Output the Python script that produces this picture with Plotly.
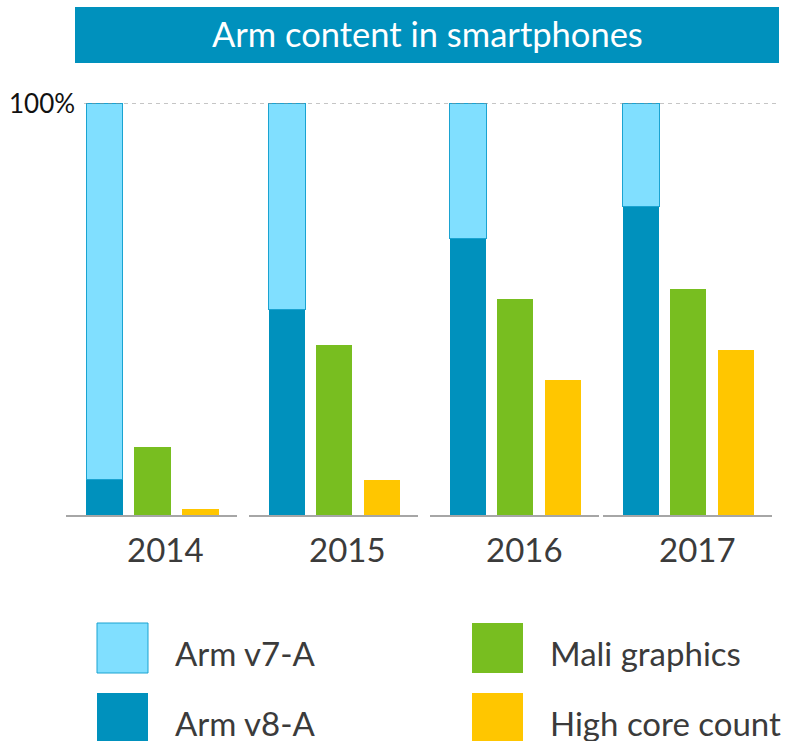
import plotly.graph_objects as go

# ---- data ----
years = ["2014", "2015", "2016", "2017"]
categories = ["Arm", "Mali", "Cores"]
arm_v8a = [8.7, 50, 67, 75]
arm_v7a = [91.3, 50, 33, 25]
mali_graphics = [16.5, 41.3, 52.4, 54.9]
high_core_count = [1.5, 8.5, 32.8, 40]
series_names = ["Arm v7-A", "Arm v8-A", "Mali graphics", "High core count"]

# ---- styles ----
C_V7 = "#80DFFF"
C_V8 = "#0091BD"
C_MALI = "#78BE20"
C_HIGH = "#FFC600"
TEXT = "#3B3B3B"
FONT = "Lato"
W, H = 786, 741

def px_x(p):
    return p / W

def px_y(p):
    return (H - p) / H

fig = go.Figure()
domains = [(66, 237), (249, 418), (430, 599), (603, 772)]
bw = 0.76
for i, yr in enumerate(years):
    xa = "x" if i == 0 else f"x{i+1}"
    fig.add_trace(go.Bar(x=[categories[0]], y=[arm_v8a[i]], xaxis=xa, yaxis="y", width=bw,
                         marker=dict(color=C_V8, line=dict(width=0)), name=series_names[1], showlegend=False))
    fig.add_trace(go.Bar(x=[categories[0]], y=[arm_v7a[i]], xaxis=xa, yaxis="y", width=bw,
                         marker=dict(color=C_V7, line=dict(color="#1AA3D1", width=1)), name=series_names[0], showlegend=False))
    fig.add_trace(go.Bar(x=[categories[1]], y=[mali_graphics[i]], xaxis=xa, yaxis="y", width=bw,
                         marker=dict(color=C_MALI, line=dict(width=0)), name=series_names[2], showlegend=False))
    fig.add_trace(go.Bar(x=[categories[2]], y=[high_core_count[i]], xaxis=xa, yaxis="y", width=bw,
                         marker=dict(color=C_HIGH, line=dict(width=0)), name=series_names[3], showlegend=False))

layout = dict(
    width=W, height=H, margin=dict(l=0, r=0, t=0, b=0),
    paper_bgcolor="white", plot_bgcolor="rgba(0,0,0,0)",
    barmode="stack", showlegend=False,
    font=dict(family=FONT, color=TEXT),
    yaxis=dict(domain=[px_y(515), px_y(103)], range=[0, 100], visible=False, fixedrange=True),
)
for i, (a, b) in enumerate(domains):
    key = "xaxis" if i == 0 else f"xaxis{i+1}"
    layout[key] = dict(domain=[px_x(a), px_x(b)], anchor="y", type="category",
                       categoryorder="array", categoryarray=categories,
                       range=[-0.8, 2.76], showticklabels=False, ticks="",
                       showgrid=False, zeroline=False, showline=True,
                       linecolor="#A6A6A6", linewidth=1.5)
fig.update_layout(**layout)

shapes = []
annotations = []
# title banner
shapes.append(dict(type="rect", xref="paper", yref="paper", x0=px_x(75), x1=px_x(779),
                   y0=px_y(63), y1=px_y(7), fillcolor="#0091BD", line=dict(width=0), layer="below"))
annotations.append(dict(xref="paper", yref="paper", x=px_x(427), y=px_y(34), text="Arm content in smartphones",
                        showarrow=False, font=dict(size=34.5, color="white", family=FONT),
                        xanchor="center", yanchor="middle"))
# 100% dashed line
shapes.append(dict(type="line", xref="paper", yref="y", x0=px_x(84), x1=px_x(779), y0=100, y1=100,
                   line=dict(color="#8C8C8C", width=1, dash="4px,4px"), layer="above"))
annotations.append(dict(xref="paper", yref="y", x=px_x(77), y=100, text="100%", showarrow=False,
                        xanchor="right", yanchor="middle", font=dict(size=26, color="#111111")))
# year labels
label_shift = [13, 13, 9, 9]
for i, yr in enumerate(years):
    xr = "x" if i == 0 else f"x{i+1}"
    annotations.append(dict(xref=xr, yref="paper", x=categories[1], y=px_y(549), text=yr, xshift=label_shift[i],
                            showarrow=False, xanchor="center", yanchor="middle",
                            font=dict(size=33, color=TEXT)))
# legend
legend_items = [
    (series_names[0], C_V7, 97, 623, "#1AA3D1"),
    (series_names[1], C_V8, 97, 693, None),
    (series_names[2], C_MALI, 472, 623, None),
    (series_names[3], C_HIGH, 472, 693, None),
]
for name, col, lx, ly, border in legend_items:
    shapes.append(dict(type="rect", xref="paper", yref="paper", x0=px_x(lx), x1=px_x(lx + 51),
                       y0=px_y(ly + 50), y1=px_y(ly), fillcolor=col,
                       line=dict(color=border if border else col, width=1 if border else 0)))
    annotations.append(dict(xref="paper", yref="paper", x=px_x(lx + 76), y=px_y(ly + 30), text=name,
                            showarrow=False, xanchor="left", yanchor="middle",
                            font=dict(size=33, color=TEXT)))
fig.update_layout(shapes=shapes, annotations=annotations)
fig.write_html("out.html", config={"displayModeBar": False},
               post_script="document.body.style.margin='0px';document.body.style.padding='0px';")
